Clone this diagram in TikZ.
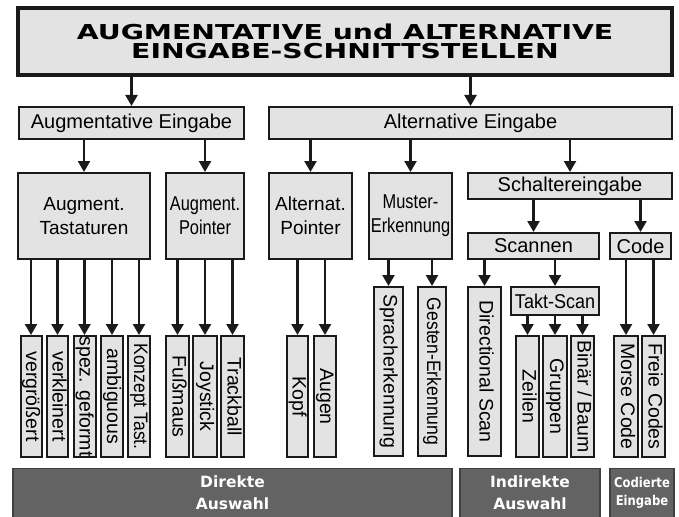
\documentclass[tikz,border=0pt]{standalone}
\usepackage{fontspec}
\setmainfont{Liberation Sans}
\newfontfamily\condfont[FakeStretch=0.82]{Liberation Sans}
\newfontfamily\semicondfont[FakeStretch=0.9]{Liberation Sans}
\newfontfamily\widefont[FakeStretch=1.38]{DejaVu Sans}
\newfontfamily\barfont{DejaVu Sans}
\newfontfamily\barcondfont[FakeStretch=0.86]{DejaVu Sans}
\usetikzlibrary{arrows.meta}
\definecolor{boxgray}{HTML}{E3E3E3}
\definecolor{bargray}{HTML}{636363}
\definecolor{linegray}{HTML}{1A1A1A}

\tikzset{
	box/.style={draw=linegray, line width=2pt, fill=boxgray, inner sep=1pt, align=center, font=\fontsize{20}{24}\selectfont},
	condbox/.style={box, font=\condfont\fontsize{20}{24}\selectfont},
	leaf/.style={box, rotate=-90, minimum width=121pt, text height=14.5pt, text depth=4.5pt, inner sep=0.5pt, font=\fontsize{19.5}{22}\selectfont},
	longleaf/.style={leaf, minimum width=169pt},
	bar/.style={draw=black!75, line width=1.2pt, fill=bargray, text=white, align=center, minimum height=49pt, font=\barfont\bfseries\fontsize{15.5}{22}\selectfont},
	arr/.style={->, line width=2.3pt, draw=linegray},
	>={Triangle[length=11pt,width=12pt]}
}

\begin{document}
\begin{tikzpicture}[x=1pt, y=-1pt]
	\useasboundingbox (0,0) rectangle (679,516);

	% Title and the two main branches
	\node [box, line width=4pt, minimum width=654pt, minimum height=67pt, font=\widefont\bfseries\fontsize{20.5}{19}\selectfont] (title) at (345,41.5) {AUGMENTATIVE und ALTERNATIVE\\EINGABE-SCHNITTSTELLEN};
	\node [box, minimum width=225pt, minimum height=32pt] (augE) at (131.5,123) {Augmentative Eingabe};
	\node [box, minimum width=403pt, minimum height=32pt] (altE) at (470.5,123) {Alternative Eingabe};

	% Second level
	\node [box, minimum width=132pt, minimum height=86pt, font=\fontsize{19}{24}\selectfont] (tast) at (84,216) {Augment.\\Tastaturen};
	\node [condbox, minimum width=78pt, minimum height=86pt] (apoint) at (205,216) {Augment.\\Pointer};
	\node [box, minimum width=83pt, minimum height=86pt, font=\fontsize{19}{24}\selectfont] (altpoint) at (310.5,216) {Alternat.\\Pointer};
	\node [condbox, minimum width=83pt, minimum height=86pt] (muster) at (410.5,216) {Muster-\\Erkennung};
	\node [box, minimum width=204pt, minimum height=26pt] (schalter) at (570,186) {Schaltereingabe};
	\node [box, minimum width=131pt, minimum height=26pt] (scannen) at (533.5,246) {Scannen};
	\node [box, minimum width=61pt, minimum height=26pt] (code) at (640.5,246) {Code};
	\node [box, minimum width=88pt, minimum height=28pt, font=\semicondfont\fontsize{20}{24}\selectfont] (takt) at (555,301) {Takt-Scan};

	% Leaves
	\node [leaf, minimum height=21pt] (vgr) at (31,396.5) {vergrößert};
	\node [leaf, minimum height=21pt] (vkl) at (57.5,396.5) {verkleinert};
	\node [leaf, minimum height=22pt] (spz) at (84.5,396.5) {spez. geformt};
	\node [leaf, minimum height=22pt] (amb) at (112,396.5) {ambiguous};
	\node [leaf, minimum height=22pt, font=\semicondfont\fontsize{19.5}{22}\selectfont] (kon) at (139,396.5) {Konzept Tast.};
	\node [leaf, minimum height=23pt] (fuss) at (177.5,396.5) {Fußmaus};
	\node [leaf, minimum height=24pt] (joy) at (205,396.5) {Joystick};
	\node [leaf, minimum height=23pt] (track) at (232.5,396.5) {Trackball};
	\node [leaf, minimum height=21pt] (kopf) at (297.5,396.5) {Kopf};
	\node [leaf, minimum height=22pt] (augen) at (325,396.5) {Augen};
	\node [longleaf, minimum height=29pt] (sprach) at (388.5,371.5) {Spracherkennung};
	\node [longleaf, minimum height=28pt, font=\semicondfont\fontsize{19.5}{22}\selectfont] (gesten) at (432,371.5) {Gesten-Erkennung};
	\node [longleaf, minimum height=33pt] (dirscan) at (484.5,371.5) {Directional Scan};
	\node [leaf, minimum height=23pt] (zeilen) at (527.5,396.5) {Zeilen};
	\node [leaf, minimum height=24pt] (gruppen) at (555,396.5) {Gruppen};
	\node [leaf, minimum height=23pt] (binaer) at (582.5,396.5) {Binär / Baum};
	\node [leaf, minimum height=24pt] (morse) at (626,396.5) {Morse Code};
	\node [leaf, minimum height=23pt] (freie) at (653.5,396.5) {Freie Codes};

	% Bottom bars
	\node [bar, minimum width=439pt] (direkt) at (232.5,493) {Direkte\\Auswahl};
	\node [bar, minimum width=140pt] (indirekt) at (530,493) {Indirekte\\Auswahl};
	\node [bar, minimum width=64pt, inner sep=0pt, font=\barcondfont\bfseries\fontsize{13.5}{18}\selectfont] (codiert) at (642,493) {Codierte\\Eingabe};

	% Arrows between levels
	\draw [arr] (title.south -| augE) -- (augE.north);
	\draw [arr] (title.south -| altE) -- (altE.north);
	\draw [arr] (augE.south -| tast) -- (tast.north);
	\draw [arr] (augE.south -| apoint) -- (apoint.north);
	\draw [arr] (altE.south -| altpoint) -- (altpoint.north);
	\draw [arr] (altE.south -| muster) -- (muster.north);
	\draw [arr] (altE.south -| schalter) -- (schalter.north);
	\draw [arr] (schalter.south -| scannen) -- (scannen.north);
	\draw [arr] (schalter.south -| code) -- (code.north);
	\draw [arr] (scannen.south -| takt) -- (takt.north);

	% Arrows to leaves
	\draw [arr] (tast.south -| vgr) -- (vgr.west);
	\draw [arr] (tast.south -| vkl) -- (vkl.west);
	\draw [arr] (tast.south -| spz) -- (spz.west);
	\draw [arr] (tast.south -| amb) -- (amb.west);
	\draw [arr] (tast.south -| kon) -- (kon.west);
	\draw [arr] (apoint.south -| fuss) -- (fuss.west);
	\draw [arr] (apoint.south -| joy) -- (joy.west);
	\draw [arr] (apoint.south -| track) -- (track.west);
	\draw [arr] (altpoint.south -| kopf) -- (kopf.west);
	\draw [arr] (altpoint.south -| augen) -- (augen.west);
	\draw [arr] (muster.south -| sprach) -- (sprach.west);
	\draw [arr] (muster.south -| gesten) -- (gesten.west);
	\draw [arr] (scannen.south -| dirscan) -- (dirscan.west);
	\draw [arr] (takt.south -| zeilen) -- (zeilen.west);
	\draw [arr] (takt.south -| gruppen) -- (gruppen.west);
	\draw [arr] (takt.south -| binaer) -- (binaer.west);
	\draw [arr] (code.south -| morse) -- (morse.west);
	\draw [arr] (code.south -| freie) -- (freie.west);

\end{tikzpicture}
\end{document}
